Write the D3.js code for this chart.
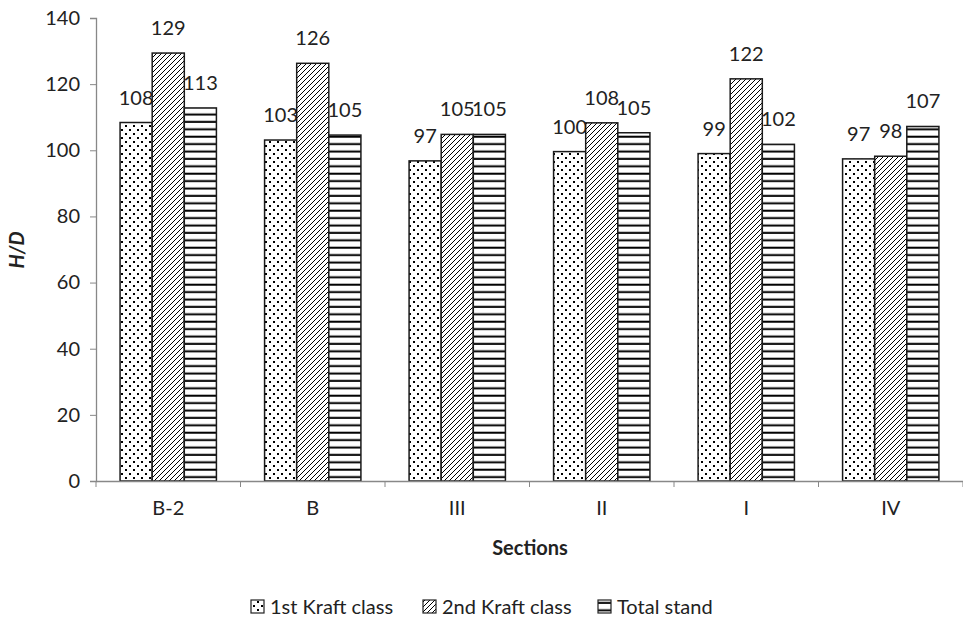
<!DOCTYPE html>
<html><head><meta charset="utf-8">
<script src="https://cdn.jsdelivr.net/npm/d3@7/dist/d3.min.js"></script>
<style>body{margin:0;background:#fff}svg{display:block}text{font-family:Lato,"Open Sans",sans-serif;fill:#222}</style>
</head><body><svg id="c" width="963" height="620"></svg>
<script>
const categories = ["B-2","B","III","II","I","IV"];
const seriesNames = ["1st Kraft class","2nd Kraft class","Total stand"];
const firstKraft = [108.4, 103.1, 96.8, 99.6, 99.0, 97.4];
const secondKraft = [129.4, 126.3, 104.8, 108.3, 121.6, 98.2];
const totalStand = [112.8, 104.6, 104.8, 105.3, 101.8, 107.2];
const yTicks = [0,20,40,60,80,100,120,140];

const svg = d3.select("#c");
const m = {l:96, r:963, t:18, b:481};
const defs = svg.append("defs");
// dots
const p1 = defs.append("pattern").attr("id","p0").attr("patternUnits","userSpaceOnUse").attr("width",8).attr("height",8);
p1.append("rect").attr("width",8).attr("height",8).attr("fill","#fff");
p1.append("rect").attr("x",1).attr("y",1).attr("width",2).attr("height",2).attr("fill","#000");
p1.append("rect").attr("x",5).attr("y",5).attr("width",2).attr("height",2).attr("fill","#000");
// diagonal
const p2 = defs.append("pattern").attr("id","p1").attr("patternUnits","userSpaceOnUse").attr("width",5).attr("height",5);
p2.append("rect").attr("width",5).attr("height",5).attr("fill","#fff");
p2.append("path").attr("d","M-1,6 L6,-1 M-1,1 L1,-1 M4,6 L6,4").attr("stroke","#000").attr("stroke-width",1);
// horizontal
const p3 = defs.append("pattern").attr("id","p2").attr("patternUnits","userSpaceOnUse").attr("width",8).attr("height",7.4);
p3.append("rect").attr("width",8).attr("height",7.4).attr("fill","#fff");
p3.append("rect").attr("y",2.5).attr("width",8).attr("height",2).attr("fill","#000");

const x0 = d3.scaleBand().domain(categories).range([m.l,m.r]).padding(0);
const bw = x0.bandwidth()/4.5;
const y = d3.scaleLinear().domain([0,140]).range([m.b,m.t]);
const series = [firstKraft, secondKraft, totalStand];

// y axis
const ya = svg.append("g").attr("transform",`translate(${m.l},0)`)
  .call(d3.axisLeft(y).tickValues(yTicks).tickSize(6).tickPadding(10));
ya.select(".domain").attr("stroke","#888").attr("stroke-width",1.3);
ya.selectAll(".tick line").attr("stroke","#888");
ya.selectAll(".tick text").attr("font-size",20).attr("fill","#222").style("font-family","Lato,sans-serif");

// bars
series.forEach((vals,si)=>{
  const g = svg.append("g");
  g.selectAll("rect").data(vals).join("rect")
    .attr("x",(d,i)=>x0(categories[i])+bw*0.75+si*bw)
    .attr("y",d=>y(d)).attr("width",bw).attr("height",d=>y(0)-y(d))
    .attr("fill",`url(#p${si})`).attr("stroke","#1a1a1a").attr("stroke-width",1.5);
  g.selectAll("text").data(vals).join("text")
    .attr("x",(d,i)=>x0(categories[i])+bw*0.75+si*bw+bw/2)
    .attr("y",d=>y(d)-18).attr("text-anchor","middle").attr("font-size",20)
    .text(d=>Math.round(d));
});

// x axis
const xa = svg.append("g").attr("transform",`translate(0,${m.b})`)
  .call(d3.axisBottom(x0).tickSize(0).tickPadding(20));
xa.select(".domain").attr("stroke","#888").attr("stroke-width",1.3);
xa.selectAll(".tick text").attr("font-size",20).attr("fill","#222").style("font-family","Lato,sans-serif");
const bounds = categories.map(c=>x0(c)).concat([m.r]);
xa.selectAll("line.sep").data(bounds).join("line").attr("class","sep")
  .attr("x1",d=>d).attr("x2",d=>d).attr("y1",0).attr("y2",6).attr("stroke","#888");

// titles
svg.append("text").attr("x",530).attr("y",555).attr("text-anchor","middle")
  .attr("font-size",20).attr("font-weight","bold").text("Sections");
svg.append("text").attr("transform","translate(24,250) rotate(-90)").attr("text-anchor","middle")
  .attr("font-size",20).attr("font-weight","bold").attr("font-style","italic").text("H/D");

// legend
const legX = [251, 423, 598];
const leg = svg.append("g");
seriesNames.forEach((n,i)=>{
  leg.append("rect").attr("x",legX[i]).attr("y",600).attr("width",13).attr("height",13)
    .attr("fill",`url(#p${i})`).attr("stroke","#222").attr("stroke-width",1.2);
  leg.append("text").attr("x",legX[i]+19).attr("y",614).attr("font-size",20).text(n);
});
</script></body></html>
